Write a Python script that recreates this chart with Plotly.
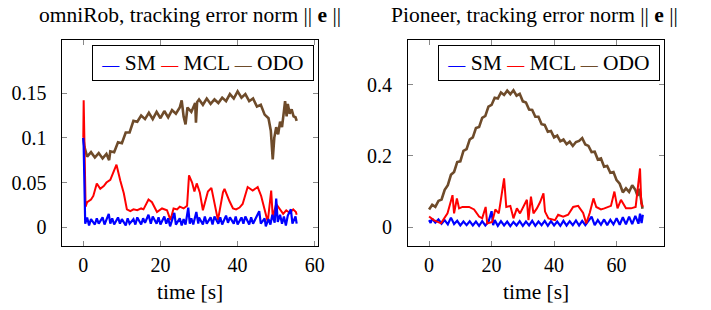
import plotly.graph_objects as go

# ---------------- left panel: omniRob ----------------
omni_odo_t = [0, 0.3, 1, 2, 3, 4, 5, 6, 6.7, 7, 8, 9, 10, 11, 12, 13, 14, 15, 16, 17, 18, 19, 20,
              21, 22, 23, 24, 25, 25.5, 26, 26.5, 27, 28, 29, 29.2, 29.5, 30, 31, 32, 33, 34, 35,
              36, 37, 38, 39, 40, 41, 42, 43, 44, 45, 46, 47, 48, 48.6, 49.1, 49.5, 50, 50.5, 51,
              51.5, 52, 52.3, 52.7, 53, 53.5, 54, 54.5, 55, 55.3]
omni_odo_v = [0.1, 0.09, 0.079, 0.084, 0.078, 0.083, 0.077, 0.082, 0.075, 0.085, 0.084, 0.095,
              0.094, 0.106, 0.106, 0.119, 0.118, 0.125, 0.121, 0.128, 0.121, 0.129, 0.122, 0.13,
              0.123, 0.131, 0.127, 0.134, 0.142, 0.124, 0.115, 0.134, 0.129, 0.139, 0.117, 0.14,
              0.143, 0.137, 0.144, 0.138, 0.143, 0.139, 0.145, 0.141, 0.149, 0.144, 0.152, 0.145,
              0.149, 0.141, 0.144, 0.135, 0.137, 0.126, 0.122, 0.108, 0.076, 0.1, 0.112, 0.104,
              0.118, 0.112, 0.13, 0.141, 0.124, 0.138, 0.127, 0.132, 0.124, 0.123, 0.119]

omni_mcl_t = [0, 0.1, 0.6, 1, 2, 2.6, 3.5, 4.4, 5.3, 6, 7, 7.9, 8.6, 9.6, 10.5, 11.3, 12.2, 13, 14,
              15, 15.6, 16.9, 17.8, 19.1, 20.4, 21.7, 22.6, 23.4, 24.3, 25, 26, 26.9, 27.4, 28.2,
              28.8, 29.4, 30.2, 31.0, 32.3, 33.2, 34.0, 34.9, 36.2, 36.6, 37.9, 38.8, 39.6, 40.5,
              41.3, 42.6, 43.9, 45.2, 46.1, 47, 47.8, 48.7, 49.1, 50, 50.9, 51.8, 52.6, 53.5, 54.4,
              55.1, 55.3]
omni_mcl_v = [0.1, 0.142, 0.023, 0.028, 0.031, 0.035, 0.049, 0.043, 0.046, 0.05, 0.053, 0.062, 0.07,
              0.052, 0.038, 0.02, 0.018, 0.02, 0.019, 0.021, 0.02, 0.031, 0.028, 0.017, 0.021, 0.019,
              0.008, 0.021, 0.02, 0.023, 0.021, 0.024, 0.058, 0.05, 0.04, 0.049, 0.039, 0.019, 0.04,
              0.044, 0.025, 0.008, 0.039, 0.043, 0.029, 0.021, 0.02, 0.022, 0.026, 0.045, 0.041,
              0.045, 0.035, 0.021, 0.006, 0.041, 0.011, 0.026, 0.02, 0.015, 0.019, 0.016, 0.02,
              0.017, 0.014]

omni_sm_t = [0, 0.1, 0.5, 1, 1.5, 2, 3, 3.5, 4, 5, 5.5, 6, 6.6, 7, 7.5, 8, 9, 9.5, 10, 11, 11.5,
             12, 13, 13.5, 14, 15, 15.5, 16, 16.9, 17.5, 18, 19, 19.5, 20, 21, 21.5, 22, 22.5, 23,
             23.6, 24, 25, 25.5, 26, 26.5, 27.2, 27.6, 28, 28.5, 29.3, 29.8, 30, 31, 31.5, 32, 33,
             33.5, 34, 35, 35.5, 36, 37, 37.5, 38, 39, 39.5, 40, 41, 41.5, 42, 43, 43.5, 44, 45,
             45.6, 46, 47, 47.3, 48, 48.5, 49, 49.6, 50, 50.4, 51, 51.5, 52, 52.5, 53, 53.8, 54.2,
             55, 55.3]
omni_sm_v = [0.1, 0.09, 0.004, 0.011, 0.002, 0.009, 0.003, 0.01, 0.004, 0.011, 0.003, 0.009, 0.015,
             0.004, 0.01, 0.003, 0.011, 0.004, 0.009, 0.002, 0.01, 0.004, 0.009, 0.003, 0.011,
             0.003, 0.01, 0.005, 0.014, 0.004, 0.012, 0.004, 0.011, 0.003, 0.012, 0.004, 0.01,
             0.001, 0.009, 0.016, 0.003, 0.01, 0.002, 0.009, 0.003, 0.022, 0.004, 0.01, 0.003,
             0.017, 0.004, 0.011, 0.003, 0.012, 0.004, 0.011, 0.003, 0.012, 0.004, 0.011, 0.003,
             0.013, 0.005, 0.011, 0.004, 0.012, 0.003, 0.011, 0.004, 0.012, 0.003, 0.011, 0.004,
             0.012, 0.018, 0.004, 0.01, 0.001, 0.009, 0.003, 0.014, 0.005, 0.032, 0.006, 0.014,
             0.004, 0.012, 0.002, 0.013, 0.02, 0.004, 0.012, 0.004]

# ---------------- right panel: Pioneer ----------------
pio_odo_t = [0, 1, 2, 3, 4, 5, 6, 7, 8, 9, 10, 11, 12, 13, 14, 15, 16, 17, 18, 19, 20, 21, 22, 23,
             24, 25, 26, 27, 28, 29, 30, 31, 32, 33, 34, 35, 36, 37, 38, 39, 40, 41, 42, 43, 44, 45,
             46, 47, 48, 49, 50, 51, 52, 53, 54, 55, 56, 57, 58, 59, 60, 61, 62, 63, 64, 65, 66,
             66.7, 67.3, 67.8, 68.3]
pio_odo_v = [0.05, 0.063, 0.057, 0.074, 0.078, 0.105, 0.118, 0.147, 0.155, 0.183, 0.185, 0.214,
             0.219, 0.246, 0.252, 0.278, 0.281, 0.307, 0.312, 0.338, 0.343, 0.363, 0.361, 0.378,
             0.371, 0.383, 0.373, 0.384, 0.369, 0.374, 0.353, 0.35, 0.33, 0.329, 0.31, 0.31, 0.289,
             0.287, 0.268, 0.27, 0.252, 0.257, 0.241, 0.246, 0.233, 0.24, 0.228, 0.239, 0.242,
             0.25, 0.232, 0.228, 0.211, 0.212, 0.19, 0.193, 0.17, 0.172, 0.153, 0.155, 0.132,
             0.122, 0.098, 0.109, 0.099, 0.118, 0.105, 0.088, 0.108, 0.072, 0.052]

pio_mcl_t = [0, 1.5, 3.8, 5.9, 7.5, 8, 8.9, 9.6, 10.7, 12.8, 14.4, 16, 17, 18.1, 18.6, 20.2, 21.2,
             22.3, 22.8, 24, 24.7, 26, 27, 28.1, 29.1, 30.2, 31.3, 31.8, 32.6, 33.4, 34.5, 35.5,
             36.6, 37.1, 38.2, 40.3, 41.3, 42.9, 44.5, 46.1, 47.7, 49.3, 50.3, 51.4, 52.6, 53.5,
             55, 56.1, 58.2, 59.3, 60.3, 61.4, 63, 64.6, 66.1, 67.5, 67.9, 68.4]
pio_mcl_v = [0.03, 0.02, 0.011, 0.039, 0.09, 0.039, 0.081, 0.053, 0.057, 0.057, 0.05, 0.03, 0.025,
             0.057, 0.011, 0.015, 0.05, 0.039, 0.067, 0.137, 0.057, 0.06, 0.025, 0.053, 0.039, 0.06,
             0.077, 0.02, 0.086, 0.039, 0.053, 0.07, 0.095, 0.044, 0.025, 0.02, 0.035, 0.03, 0.035,
             0.057, 0.06, 0.04, 0.011, 0.04, 0.081, 0.057, 0.05, 0.053, 0.06, 0.1, 0.053, 0.077,
             0.053, 0.053, 0.057, 0.165, 0.067, 0.057]

pio_sm_t = [0, 0.5, 1, 2, 3, 4, 5, 6, 7, 8, 9, 10, 11, 12, 13, 14, 15, 16, 17, 18, 19, 20, 20.5,
            21, 22, 23, 24, 25, 26, 27, 28, 29, 30, 31, 32, 33, 34, 35, 36, 37, 38, 39, 40, 41, 42,
            43, 44, 45, 46, 47, 48, 49, 50, 51, 52, 53, 54, 55, 56, 57, 58, 59, 60, 61, 62, 63, 64,
            65, 66, 67, 67.5, 68, 68.4]
pio_sm_v = [0.02, 0.012, 0.024, 0.013, 0.022, 0.01, 0.02, 0.008, 0.027, 0.009, 0.018, 0.005, 0.016,
            0.006, 0.017, 0.005, 0.016, 0.004, 0.017, 0.005, 0.015, 0.045, 0.006, 0.02, 0.004,
            0.017, 0.005, 0.016, 0.003, 0.015, 0.005, 0.017, 0.004, 0.016, 0.005, 0.018, 0.004,
            0.016, 0.006, 0.018, 0.004, 0.017, 0.005, 0.016, 0.004, 0.018, 0.005, 0.017, 0.006,
            0.019, 0.005, 0.018, 0.006, 0.017, 0.03, 0.006, 0.02, 0.007, 0.022, 0.006, 0.021,
            0.008, 0.025, 0.007, 0.028, 0.008, 0.03, 0.009, 0.032, 0.01, 0.038, 0.012, 0.035]

series_names = ["SM", "MCL", "ODO"]
left_ticks_x = [0, 20, 40, 60]
left_ticks_y = [0, 0.05, 0.1, 0.15]
left_ticklabels_y = ["0", "0.05", "0.1", "0.15"]
right_ticks_x = [0, 20, 40, 60]
right_ticks_y = [0, 0.2, 0.4]
right_ticklabels_y = ["0", "0.2", "0.4"]
titles = ["omniRob, tracking error norm", "Pioneer, tracking error norm"]
xlabel = "time [s]"

BLUE = "#0000ff"
RED = "#ff0000"
BROWN = "#6e4b2a"
SERIES_COLORS = [BLUE, RED, BROWN]
FONT = "Liberation Serif, Times New Roman, serif"
FS = 21.5
TFS = 20

fig = go.Figure()

def add(t, v, color, width, xa, ya):
    fig.add_trace(go.Scatter(x=t, y=v, mode="lines", showlegend=False,
                             line=dict(color=color, width=width),
                             xaxis=xa, yaxis=ya))

add(omni_odo_t, omni_odo_v, BROWN, 2.6, "x", "y")
add(omni_mcl_t, omni_mcl_v, RED, 2.0, "x", "y")
add(omni_sm_t, omni_sm_v, BLUE, 2.2, "x", "y")
add(pio_odo_t, pio_odo_v, BROWN, 2.6, "x2", "y2")
add(pio_sm_t, pio_sm_v, BLUE, 2.2, "x2", "y2")
add(pio_mcl_t, pio_mcl_v, RED, 2.0, "x2", "y2")

# the page body has an 8px margin; lay out in window pixel coordinates
OFF = 8
W, H = 711 - OFF, 310 - OFF
def px(x):
    return (x - OFF) / W
def py(y):
    return (H - (y - OFF)) / H

axis_common = dict(showline=True, linecolor="black", linewidth=1, mirror="ticks",
                   ticks="inside", ticklen=5, tickcolor="#888888", tickwidth=1,
                   showgrid=False, zeroline=False,
                   tickfont=dict(family=FONT, size=TFS, color="black"))

fig.update_layout(
    width=W, height=H,
    margin=dict(l=0, r=0, t=0, b=0),
    paper_bgcolor="white", plot_bgcolor="white",
    font=dict(family=FONT, size=FS, color="black"),
    showlegend=False,
    xaxis=dict(domain=[px(63), px(321)], range=[-5.4, 60.8], tickvals=left_ticks_x,
               anchor="y", ticklabelstandoff=1, **axis_common),
    yaxis=dict(domain=[py(246), py(40)], range=[-0.021, 0.2095], tickvals=left_ticks_y,
               ticktext=left_ticklabels_y, anchor="x", ticklabelstandoff=11, **axis_common),
    xaxis2=dict(domain=[px(412), px(671)], range=[-6.75, 75.3], tickvals=right_ticks_x,
                anchor="y2", ticklabelstandoff=1, **axis_common),
    yaxis2=dict(domain=[py(246), py(40)], range=[-0.0525, 0.525], tickvals=right_ticks_y,
                ticktext=right_ticklabels_y, anchor="x2", ticklabelstandoff=11, **axis_common),
)

# legend boxes (one per panel), built as framed text
legend_text = "\u2009" + " ".join(
    f"<span style='color:{c};font-size:17px'>—</span> {n}"
    for n, c in zip(series_names, SERIES_COLORS)) + "\u2009"
for lx in (93, 442):
    fig.add_annotation(xref="paper", yref="paper", x=px(lx), y=py(45), xanchor="left",
                       yanchor="top", text=legend_text, showarrow=False,
                       bordercolor="black", borderwidth=1, borderpad=5, bgcolor="white",
                       font=dict(family=FONT, size=FS, color="black"))

norm = " || <b>e</b> ||"
annots = [
    dict(text=titles[0] + norm, x=px(192), y=py(15)),
    dict(text=titles[1] + norm, x=px(540), y=py(15)),
    dict(text=xlabel, x=px(192), y=py(292)),
    dict(text=xlabel, x=px(541), y=py(292)),
]
for a in annots:
    fig.add_annotation(xref="paper", yref="paper", showarrow=False,
                       xanchor="center", yanchor="middle",
                       font=dict(family=FONT, size=FS, color="black"), **a)

fig.write_html("out.html")
